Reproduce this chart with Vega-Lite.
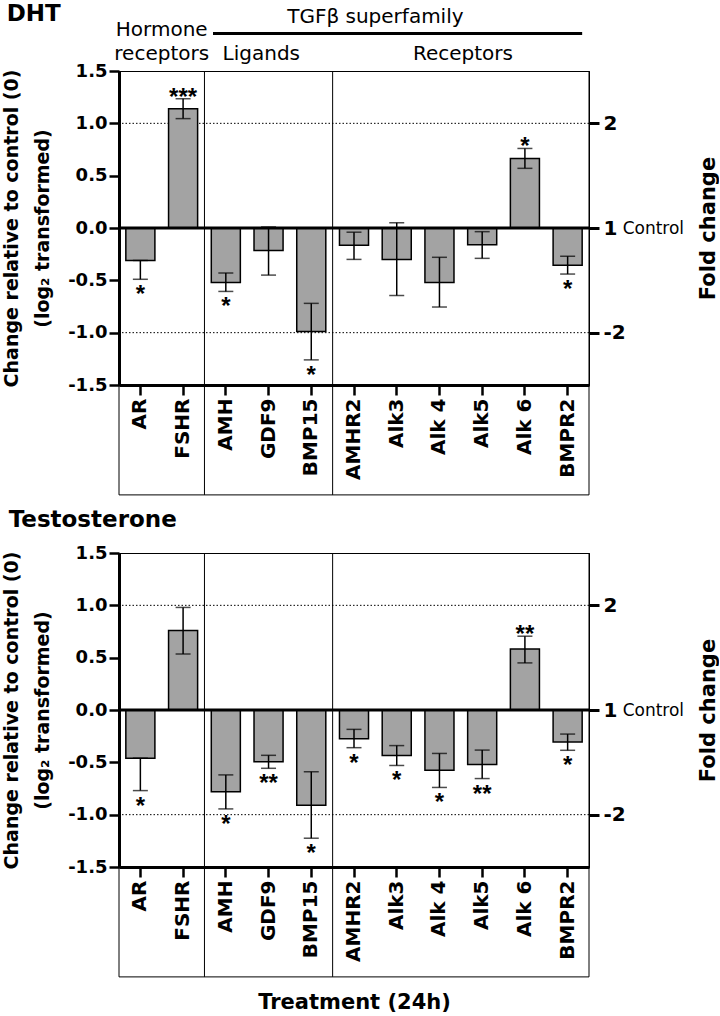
{
  "$schema": "https://vega.github.io/schema/vega-lite/v6.json",
  "padding": {"left": 2, "top": 2, "right": 0, "bottom": 0},
  "spacing": 12,
  "config": {
    "font": "DejaVu Sans",
    "view": {"stroke": "black", "strokeWidth": 1},
    "axis": {"domainColor": "black", "tickColor": "black", "labelColor": "black", "titleColor": "black", "grid": false},
    "axisBottom": {"labelAngle": 270, "labelFontSize": 20, "labelFontWeight": "bold", "labelPadding": 3, "tickSize": 10, "tickWidth": 2.5, "domainWidth": 3, "titleFontSize": 21, "titleFontWeight": "bold", "titlePadding": 30},
    "axisLeft": {"labelFontSize": 18, "labelFontWeight": "bold", "labelPadding": 2, "tickSize": 10, "tickWidth": 2.5, "domainWidth": 3, "titleFontSize": 19, "titleFontWeight": "bold", "titleLineHeight": 31, "titlePadding": 15},
    "axisRight": {"labelFontSize": 20, "labelFontWeight": "bold", "labelPadding": 4, "tickSize": 10, "tickWidth": 3, "domainWidth": 1, "titleFontSize": 21, "titleFontWeight": "bold", "titleAngle": 270, "titleBaseline": "top", "titlePadding": 72},
    "title": {"fontSize": 23, "fontWeight": "bold", "anchor": "start", "frame": "bounds", "color": "black", "font": "DejaVu Sans"}
  },
  "datasets": {
    "dht": [
      {"gene": "AR", "value": -0.31, "lo": -0.49, "hi": -0.31, "sig": "*"},
      {"gene": "FSHR", "value": 1.14, "lo": 1.045, "hi": 1.235, "sig": "***"},
      {"gene": "AMH", "value": -0.52, "lo": -0.606, "hi": -0.43, "sig": "*"},
      {"gene": "GDF9", "value": -0.215, "lo": -0.45, "hi": 0.01, "sig": ""},
      {"gene": "BMP15", "value": -0.99, "lo": -1.26, "hi": -0.72, "sig": "*"},
      {"gene": "AMHR2", "value": -0.165, "lo": -0.3, "hi": -0.04, "sig": ""},
      {"gene": "Alk3", "value": -0.3, "lo": -0.645, "hi": 0.05, "sig": ""},
      {"gene": "Alk 4", "value": -0.52, "lo": -0.755, "hi": -0.28, "sig": ""},
      {"gene": "Alk5", "value": -0.16, "lo": -0.29, "hi": -0.035, "sig": ""},
      {"gene": "Alk 6", "value": 0.665, "lo": 0.57, "hi": 0.76, "sig": "*"},
      {"gene": "BMPR2", "value": -0.355, "lo": -0.44, "hi": -0.27, "sig": "*"}
    ],
    "tes": [
      {"gene": "AR", "value": -0.46, "lo": -0.77, "hi": -0.46, "sig": "*"},
      {"gene": "FSHR", "value": 0.76, "lo": 0.535, "hi": 0.98, "sig": ""},
      {"gene": "AMH", "value": -0.78, "lo": -0.945, "hi": -0.62, "sig": "*"},
      {"gene": "GDF9", "value": -0.495, "lo": -0.557, "hi": -0.433, "sig": "**"},
      {"gene": "BMP15", "value": -0.91, "lo": -1.225, "hi": -0.59, "sig": "*"},
      {"gene": "AMHR2", "value": -0.275, "lo": -0.36, "hi": -0.185, "sig": "*"},
      {"gene": "Alk3", "value": -0.435, "lo": -0.53, "hi": -0.34, "sig": "*"},
      {"gene": "Alk 4", "value": -0.575, "lo": -0.74, "hi": -0.415, "sig": "*"},
      {"gene": "Alk5", "value": -0.52, "lo": -0.655, "hi": -0.383, "sig": "**"},
      {"gene": "Alk 6", "value": 0.583, "lo": 0.45, "hi": 0.705, "sig": "**"},
      {"gene": "BMPR2", "value": -0.305, "lo": -0.385, "hi": -0.23, "sig": "*"}
    ],
    "groups": [
      {"group": "Hormone receptors", "first": "AR"},
      {"group": "Ligands", "first": "AMH"},
      {"group": "Receptors", "first": "AMHR2"}
    ],
    "one": [{}]
  },
  "vconcat": [
    {
      "title": {"text": "DHT", "offset": -19, "dx": 4},
      "width": 470,
      "height": 314,
      "data": {"name": "dht"},
      "resolve": {"axis": {"y": "independent"}},
      "layer": [
        {
          "data": {"name": "one"},
          "mark": {"type": "rule", "color": "black", "strokeWidth": 1, "strokeDash": [1.5, 2]},
          "encoding": {"y": {"datum": 1, "type": "quantitative", "scale": {"domain": [-1.5, 1.5], "nice": false, "zero": false}, "axis": null}}
        },
        {
          "data": {"name": "one"},
          "mark": {"type": "rule", "color": "black", "strokeWidth": 1, "strokeDash": [1.5, 2]},
          "encoding": {"y": {"datum": -1, "type": "quantitative", "scale": {"domain": [-1.5, 1.5], "nice": false, "zero": false}, "axis": null}}
        },
        {
          "mark": {"type": "bar", "width": {"band": 0.68}, "fill": "#a3a3a3", "stroke": "black", "strokeWidth": 1.5},
          "encoding": {
            "x": {"field": "gene", "type": "nominal", "scale": {"domain": ["AR", "FSHR", "AMH", "GDF9", "BMP15", "AMHR2", "Alk3", "Alk 4", "Alk5", "Alk 6", "BMPR2"], "paddingInner": 0, "paddingOuter": 0}, "axis": {"title": null}},
            "y": {"field": "value", "type": "quantitative", "scale": {"domain": [-1.5, 1.5], "nice": false, "zero": false}, "axis": {"values": [-1.5, -1, -0.5, 0, 0.5, 1, 1.5], "labelExpr": "replace(format(datum.value, '.1f'), '−', '-')", "title": ["Change relative to control (0)", "(log₂ transformed)"]}}
          }
        },
        {
          "mark": {"type": "rule", "color": "black", "strokeWidth": 1.5},
          "encoding": {"x": {"field": "gene", "type": "nominal"}, "y": {"field": "lo", "type": "quantitative", "scale": {"domain": [-1.5, 1.5], "nice": false, "zero": false}, "axis": null}, "y2": {"field": "hi"}}
        },
        {
          "mark": {"type": "tick", "color": "black", "thickness": 1.5, "size": 15},
          "encoding": {"x": {"field": "gene", "type": "nominal"}, "y": {"field": "lo", "type": "quantitative", "scale": {"domain": [-1.5, 1.5], "nice": false, "zero": false}, "axis": null}}
        },
        {
          "mark": {"type": "tick", "color": "black", "thickness": 1.5, "size": 15},
          "encoding": {"x": {"field": "gene", "type": "nominal"}, "y": {"field": "hi", "type": "quantitative", "scale": {"domain": [-1.5, 1.5], "nice": false, "zero": false}, "axis": null}}
        },
        {
          "data": {"name": "one"},
          "mark": {"type": "rule", "color": "black", "strokeWidth": 3},
          "encoding": {"y": {"datum": 0, "type": "quantitative", "scale": {"domain": [-1.5, 1.5], "nice": false, "zero": false}, "axis": {"orient": "right", "values": [-1, 0, 1], "labelExpr": "datum.value == 1 ? '2' : datum.value == 0 ? '1' : '-2'", "title": "Fold change"}}}
        },
        {
          "data": {"name": "one"},
          "mark": {"type": "text", "text": "Control", "fontSize": 17, "align": "left", "baseline": "middle", "dx": 55, "dy": 1, "color": "black"},
          "encoding": {"x": {"datum": "BMPR2", "type": "nominal"}, "y": {"datum": 0, "type": "quantitative", "scale": {"domain": [-1.5, 1.5], "nice": false, "zero": false}, "axis": null}}
        },
        {
          "data": {"name": "groups"},
          "mark": {"type": "rule", "color": "black", "strokeWidth": 1, "clip": false},
          "encoding": {"x": {"field": "first", "type": "nominal", "bandPosition": 0}, "y": {"datum": 1.5, "type": "quantitative", "scale": {"domain": [-1.5, 1.5], "nice": false, "zero": false}, "axis": null}, "y2": {"datum": -2.55}}
        },
        {
          "data": {"name": "one"},
          "mark": {"type": "rule", "color": "black", "strokeWidth": 1, "clip": false},
          "encoding": {"x": {"datum": "BMPR2", "type": "nominal", "bandPosition": 1}, "y": {"datum": 1.5, "type": "quantitative", "scale": {"domain": [-1.5, 1.5], "nice": false, "zero": false}, "axis": null}, "y2": {"datum": -2.55}}
        },
        {
          "data": {"name": "one"},
          "mark": {"type": "rule", "color": "black", "strokeWidth": 1, "clip": false},
          "encoding": {"x": {"datum": "AR", "type": "nominal", "bandPosition": 0}, "x2": {"datum": "BMPR2", "bandPosition": 1}, "y": {"datum": -2.55, "type": "quantitative", "scale": {"domain": [-1.5, 1.5], "nice": false, "zero": false}, "axis": null}}
        },
        {
          "transform": [{"filter": "datum.value < 0 && datum.sig != ''"}],
          "mark": {"type": "text", "font": "Liberation Sans", "fontSize": 24, "fontWeight": "bold", "baseline": "top", "dy": 4, "color": "black"},
          "encoding": {"x": {"field": "gene", "type": "nominal"}, "y": {"field": "lo", "type": "quantitative", "scale": {"domain": [-1.5, 1.5], "nice": false, "zero": false}, "axis": null}, "text": {"field": "sig"}}
        },
        {
          "transform": [{"filter": "datum.value > 0 && datum.sig != ''"}],
          "mark": {"type": "text", "font": "Liberation Sans", "fontSize": 24, "fontWeight": "bold", "baseline": "alphabetic", "dy": 6, "color": "black"},
          "encoding": {"x": {"field": "gene", "type": "nominal"}, "y": {"field": "hi", "type": "quantitative", "scale": {"domain": [-1.5, 1.5], "nice": false, "zero": false}, "axis": null}, "text": {"field": "sig"}}
        },
        {
          "data": {"name": "one"},
          "mark": {"type": "rule", "color": "black", "strokeWidth": 3, "clip": false},
          "encoding": {"x": {"datum": "AMH", "type": "nominal", "bandPosition": 0.2}, "x2": {"datum": "BMPR2", "bandPosition": 0.84}, "y": {"datum": 1.858, "type": "quantitative", "scale": {"domain": [-1.5, 1.5], "nice": false, "zero": false}, "axis": null}}
        },
        {
          "data": {"name": "one"},
          "mark": {"type": "text", "text": "TGFβ superfamily", "fontSize": 20, "align": "center", "baseline": "middle", "color": "black"},
          "encoding": {"x": {"datum": "Alk3", "type": "nominal", "bandPosition": 0}, "y": {"datum": 2.02, "type": "quantitative", "scale": {"domain": [-1.5, 1.5], "nice": false, "zero": false}, "axis": null}}
        },
        {
          "data": {"name": "one"},
          "mark": {"type": "text", "text": "Hormone", "fontSize": 20, "align": "center", "baseline": "middle", "color": "black"},
          "encoding": {"x": {"datum": "FSHR", "type": "nominal", "bandPosition": 0}, "y": {"datum": 1.895, "type": "quantitative", "scale": {"domain": [-1.5, 1.5], "nice": false, "zero": false}, "axis": null}}
        },
        {
          "data": {"name": "one"},
          "mark": {"type": "text", "text": "receptors", "fontSize": 20, "align": "center", "baseline": "middle", "color": "black"},
          "encoding": {"x": {"datum": "FSHR", "type": "nominal", "bandPosition": 0}, "y": {"datum": 1.66, "type": "quantitative", "scale": {"domain": [-1.5, 1.5], "nice": false, "zero": false}, "axis": null}}
        },
        {
          "data": {"name": "one"},
          "mark": {"type": "text", "text": "Ligands", "fontSize": 20, "align": "center", "baseline": "middle", "color": "black"},
          "encoding": {"x": {"datum": "GDF9", "type": "nominal", "bandPosition": 0.33}, "y": {"datum": 1.66, "type": "quantitative", "scale": {"domain": [-1.5, 1.5], "nice": false, "zero": false}, "axis": null}}
        },
        {
          "data": {"name": "one"},
          "mark": {"type": "text", "text": "Receptors", "fontSize": 20, "align": "center", "baseline": "middle", "color": "black"},
          "encoding": {"x": {"datum": "Alk5", "type": "nominal", "bandPosition": 0.05}, "y": {"datum": 1.66, "type": "quantitative", "scale": {"domain": [-1.5, 1.5], "nice": false, "zero": false}, "axis": null}}
        }
      ]
    },
    {
      "title": {"text": "Testosterone", "offset": 12, "dx": 6},
      "width": 470,
      "height": 314,
      "data": {"name": "tes"},
      "resolve": {"axis": {"y": "independent"}},
      "layer": [
        {
          "data": {"name": "one"},
          "mark": {"type": "rule", "color": "black", "strokeWidth": 1, "strokeDash": [1.5, 2]},
          "encoding": {"y": {"datum": 1, "type": "quantitative", "scale": {"domain": [-1.5, 1.5], "nice": false, "zero": false}, "axis": null}}
        },
        {
          "data": {"name": "one"},
          "mark": {"type": "rule", "color": "black", "strokeWidth": 1, "strokeDash": [1.5, 2]},
          "encoding": {"y": {"datum": -1, "type": "quantitative", "scale": {"domain": [-1.5, 1.5], "nice": false, "zero": false}, "axis": null}}
        },
        {
          "mark": {"type": "bar", "width": {"band": 0.68}, "fill": "#a3a3a3", "stroke": "black", "strokeWidth": 1.5},
          "encoding": {
            "x": {"field": "gene", "type": "nominal", "scale": {"domain": ["AR", "FSHR", "AMH", "GDF9", "BMP15", "AMHR2", "Alk3", "Alk 4", "Alk5", "Alk 6", "BMPR2"], "paddingInner": 0, "paddingOuter": 0}, "axis": {"title": "Treatment (24h)"}},
            "y": {"field": "value", "type": "quantitative", "scale": {"domain": [-1.5, 1.5], "nice": false, "zero": false}, "axis": {"values": [-1.5, -1, -0.5, 0, 0.5, 1, 1.5], "labelExpr": "replace(format(datum.value, '.1f'), '−', '-')", "title": ["Change relative to control (0)", "(log₂ transformed)"]}}
          }
        },
        {
          "mark": {"type": "rule", "color": "black", "strokeWidth": 1.5},
          "encoding": {"x": {"field": "gene", "type": "nominal"}, "y": {"field": "lo", "type": "quantitative", "scale": {"domain": [-1.5, 1.5], "nice": false, "zero": false}, "axis": null}, "y2": {"field": "hi"}}
        },
        {
          "mark": {"type": "tick", "color": "black", "thickness": 1.5, "size": 15},
          "encoding": {"x": {"field": "gene", "type": "nominal"}, "y": {"field": "lo", "type": "quantitative", "scale": {"domain": [-1.5, 1.5], "nice": false, "zero": false}, "axis": null}}
        },
        {
          "mark": {"type": "tick", "color": "black", "thickness": 1.5, "size": 15},
          "encoding": {"x": {"field": "gene", "type": "nominal"}, "y": {"field": "hi", "type": "quantitative", "scale": {"domain": [-1.5, 1.5], "nice": false, "zero": false}, "axis": null}}
        },
        {
          "data": {"name": "one"},
          "mark": {"type": "rule", "color": "black", "strokeWidth": 3},
          "encoding": {"y": {"datum": 0, "type": "quantitative", "scale": {"domain": [-1.5, 1.5], "nice": false, "zero": false}, "axis": {"orient": "right", "values": [-1, 0, 1], "labelExpr": "datum.value == 1 ? '2' : datum.value == 0 ? '1' : '-2'", "title": "Fold change"}}}
        },
        {
          "data": {"name": "one"},
          "mark": {"type": "text", "text": "Control", "fontSize": 17, "align": "left", "baseline": "middle", "dx": 55, "dy": 1, "color": "black"},
          "encoding": {"x": {"datum": "BMPR2", "type": "nominal"}, "y": {"datum": 0, "type": "quantitative", "scale": {"domain": [-1.5, 1.5], "nice": false, "zero": false}, "axis": null}}
        },
        {
          "data": {"name": "groups"},
          "mark": {"type": "rule", "color": "black", "strokeWidth": 1, "clip": false},
          "encoding": {"x": {"field": "first", "type": "nominal", "bandPosition": 0}, "y": {"datum": 1.5, "type": "quantitative", "scale": {"domain": [-1.5, 1.5], "nice": false, "zero": false}, "axis": null}, "y2": {"datum": -2.55}}
        },
        {
          "data": {"name": "one"},
          "mark": {"type": "rule", "color": "black", "strokeWidth": 1, "clip": false},
          "encoding": {"x": {"datum": "BMPR2", "type": "nominal", "bandPosition": 1}, "y": {"datum": 1.5, "type": "quantitative", "scale": {"domain": [-1.5, 1.5], "nice": false, "zero": false}, "axis": null}, "y2": {"datum": -2.55}}
        },
        {
          "data": {"name": "one"},
          "mark": {"type": "rule", "color": "black", "strokeWidth": 1, "clip": false},
          "encoding": {"x": {"datum": "AR", "type": "nominal", "bandPosition": 0}, "x2": {"datum": "BMPR2", "bandPosition": 1}, "y": {"datum": -2.55, "type": "quantitative", "scale": {"domain": [-1.5, 1.5], "nice": false, "zero": false}, "axis": null}}
        },
        {
          "transform": [{"filter": "datum.value < 0 && datum.sig != ''"}],
          "mark": {"type": "text", "font": "Liberation Sans", "fontSize": 24, "fontWeight": "bold", "baseline": "top", "dy": 4, "color": "black"},
          "encoding": {"x": {"field": "gene", "type": "nominal"}, "y": {"field": "lo", "type": "quantitative", "scale": {"domain": [-1.5, 1.5], "nice": false, "zero": false}, "axis": null}, "text": {"field": "sig"}}
        },
        {
          "transform": [{"filter": "datum.value > 0 && datum.sig != ''"}],
          "mark": {"type": "text", "font": "Liberation Sans", "fontSize": 24, "fontWeight": "bold", "baseline": "alphabetic", "dy": 6, "color": "black"},
          "encoding": {"x": {"field": "gene", "type": "nominal"}, "y": {"field": "hi", "type": "quantitative", "scale": {"domain": [-1.5, 1.5], "nice": false, "zero": false}, "axis": null}, "text": {"field": "sig"}}
        }
      ]
    }
  ]
}
